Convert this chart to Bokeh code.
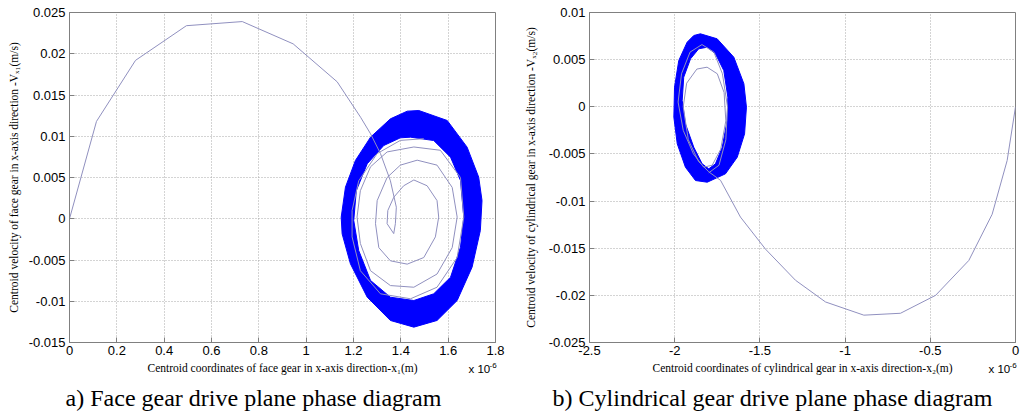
from bokeh.plotting import figure
from bokeh.layouts import row, column
from bokeh.models import FixedTicker, CustomJSTickFormatter, Range1d
from bokeh.core.properties import value
from bokeh.embed import file_html
from bokeh.resources import INLINE

# ---------------- data (x in units of 1e-6 m, velocity in m/s) ----------------
# a) face gear: transient trajectory
x1_traj = [0.0, 0.114, 0.279, 0.494, 0.730, 0.945, 1.131, 1.230, 1.272, 1.314, 1.356, 1.381,
           1.377, 1.370, 1.342, 1.345, 1.370, 1.412, 1.455, 1.511, 1.553, 1.560, 1.546, 1.497,
           1.427, 1.356, 1.307, 1.293, 1.300, 1.342, 1.398, 1.469, 1.553, 1.617, 1.638, 1.617,
           1.553, 1.455, 1.356, 1.272, 1.229, 1.215, 1.229, 1.272, 1.342, 1.455, 1.567, 1.652,
           1.666, 1.638, 1.553, 1.441, 1.314, 1.229, 1.194, 1.194, 1.222, 1.300, 1.398, 1.497]
v1_traj = [0.0, 0.0118, 0.0192, 0.0234, 0.0239, 0.0212, 0.0166, 0.0123, 0.0103, 0.0079, 0.0046, 0.0014,
           -0.0006, -0.0018, -0.0006, 0.0010, 0.0026, 0.0040, 0.0047, 0.0040, 0.0022, 0.0002, -0.0022, -0.0047,
           -0.0055, -0.0051, -0.0035, -0.0006, 0.0022, 0.0050, 0.0065, 0.0071, 0.0065, 0.0038, 0.0002, -0.0035,
           -0.0067, -0.0083, -0.0081, -0.0063, -0.0030, 0.0002, 0.0034, 0.0063, 0.0081, 0.0087, 0.0083, 0.0050,
           0.0002, -0.0047, -0.0083, -0.0097, -0.0091, -0.0063, -0.0022, 0.0010, 0.0046, 0.0079, 0.0095, 0.0097]
# a) steady-state band: outer and inner boundary
x1_outer = [1.476, 1.596, 1.680, 1.729, 1.743, 1.736, 1.701, 1.638, 1.553, 1.455,
            1.356, 1.258, 1.187, 1.152, 1.148, 1.166, 1.208, 1.272, 1.356, 1.427]
v1_outer = [0.01312, 0.01191, 0.00868, 0.00504, 0.00221, -0.00142, -0.00587, -0.00991, -0.01233, -0.01314,
            -0.01233, -0.00951, -0.00546, -0.00183, 0.00019, 0.00383, 0.00706, 0.00989, 0.01211, 0.01304]
x1_inner = [1.441, 1.539, 1.610, 1.652, 1.666, 1.652, 1.610, 1.539, 1.455, 1.356,
            1.272, 1.222, 1.201, 1.212, 1.258, 1.328, 1.398]
v1_inner = [0.00989, 0.00948, 0.00746, 0.00464, 0.00019, -0.00345, -0.00709, -0.00910, -0.00991, -0.00951,
            -0.00748, -0.00385, -0.00021, 0.00342, 0.00666, 0.00888, 0.00981]

# b) cylindrical gear: transient trajectory
x2_traj = [0.0, -0.049, -0.137, -0.274, -0.469, -0.675, -0.890, -1.115, -1.291, -1.467, -1.614, -1.731,
           -1.80, -1.86, -1.92, -1.95, -1.93, -1.87, -1.81, -1.75, -1.71, -1.70, -1.73, -1.78,
           -1.83, -1.89, -1.95, -1.98, -1.96, -1.91, -1.84, -1.77, -1.72, -1.69, -1.70, -1.74, -1.80]
v2_traj = [0.0, -0.0057, -0.0114, -0.0163, -0.0200, -0.0219, -0.0221, -0.0207, -0.0184, -0.0151, -0.0117, -0.0078,
           -0.0069, -0.0058, -0.0035, 0.0000, 0.0025, 0.0040, 0.0042, 0.0035, 0.0015, -0.0015, -0.0045, -0.0062,
           -0.0064, -0.0050, -0.0025, 0.0005, 0.0035, 0.0058, 0.0066, 0.0058, 0.0035, 0.0000, -0.0035, -0.0062, -0.0070]
# b) steady-state band
x2_outer = [-1.849, -1.751, -1.653, -1.594, -1.579, -1.590, -1.633, -1.702, -1.809,
            -1.878, -1.937, -1.985, -2.005, -2.001, -1.976, -1.927, -1.888]
v2_outer = [0.00774, 0.00721, 0.00526, 0.00244, -0.00004, -0.00287, -0.00535, -0.00711, -0.00800,
            -0.00782, -0.00641, -0.00393, -0.00110, 0.00208, 0.00491, 0.00685, 0.00756]
x2_inner = [-1.809, -1.761, -1.712, -1.688, -1.692, -1.721, -1.761, -1.800,
            -1.839, -1.888, -1.937, -1.956, -1.947, -1.907, -1.859]
v2_inner = [0.00632, 0.00562, 0.00385, 0.00102, -0.00145, -0.00429, -0.00605, -0.00658,
            -0.00605, -0.00429, -0.00181, 0.00067, 0.00314, 0.00509, 0.00615]

# ticks
x1_ticks = [0, 0.2, 0.4, 0.6, 0.8, 1.0, 1.2, 1.4, 1.6, 1.8]
x1_labels = ["0", "0.2", "0.4", "0.6", "0.8", "1", "1.2", "1.4", "1.6", "1.8"]
y1_ticks = [-0.015, -0.01, -0.005, 0, 0.005, 0.01, 0.015, 0.02, 0.025]
y1_labels = ["-0.015", "-0.01", "-0.005", "0", "0.005", "0.01", "0.015", "0.02", "0.025"]
x2_ticks = [-2.5, -2.0, -1.5, -1.0, -0.5, 0]
x2_labels = ["-2.5", "-2", "-1.5", "-1", "-0.5", "0"]
y2_ticks = [-0.025, -0.02, -0.015, -0.01, -0.005, 0, 0.005, 0.01]
y2_labels = ["-0.025", "-0.02", "-0.015", "-0.01", "-0.005", "0", "0.005", "0.01"]

# texts below the panels
x_titles = ["Centroid coordinates of face gear in x-axis direction-x\u2081(m)",
            "Centroid coordinates of cylindrical gear in x-axis direction-x\u2082(m)"]
y_titles = ["Centroid velocity of face gear in x-axis direction -V\u2093\u2081(m/s)",
            "Centroid velocity of cylindrical gear in x-axis direction -V\u2093\u2082(m/s)"]
captions = ["a) Face gear drive plane phase diagram", "b) Cylindrical gear drive plane phase diagram"]
scale_base = ["x 10", "x 10"]
scale_exp = ["-6", "-6"]

LINE = "#9090bf"
BAND = "#0000ff"
SANS = "Liberation Sans"
SERIF = "Liberation Serif"
TOP_H = 362


def fmt(ticks, labels):
    return CustomJSTickFormatter(args=dict(tv=ticks, lb=labels), code="""
        for (let i = 0; i < tv.length; i++) { if (Math.abs(tv[i] - tick) < 1e-9) return lb[i]; }
        return '';
    """)


def make(xr, yr, xt, xl, yt, yl, ylabel, border_left, border_right, ystd):
    p = figure(width=512, height=TOP_H, output_backend="svg", toolbar_location=None, title=None,
               x_range=Range1d(*xr), y_range=Range1d(*yr),
               min_border_left=border_left, min_border_right=border_right,
               min_border_top=12, min_border_bottom=TOP_H - 12 - 330)
    p.background_fill_color = "white"
    p.border_fill_color = "white"
    p.outline_line_color = "#808080"
    p.outline_line_width = 1
    for ax, t, l in ((p.xaxis, xt, xl), (p.yaxis, yt, yl)):
        ax.ticker = FixedTicker(ticks=t)
        ax.formatter = fmt(t, l)
        ax.major_tick_in = 5
        ax.major_tick_out = 0
        ax.minor_tick_line_color = None
        ax.major_tick_line_color = "#808080"
        ax.axis_line_color = "#808080"
        ax.major_label_text_font = SANS
        ax.major_label_text_font_size = "13px"
        ax.major_label_text_color = "black"
        ax.major_label_standoff = 4
        ax.axis_label_text_font = SERIF
        ax.axis_label_text_font_style = "normal"
        ax.axis_label_text_font_size = "11.5px"
        ax.axis_label_text_color = "black"
    p.xaxis.major_label_standoff = 3
    p.yaxis.axis_label = ylabel
    p.yaxis.axis_label_standoff = ystd
    p.grid.grid_line_color = "#a8a8a8"
    p.grid.grid_line_dash = "1 2"
    p.grid.grid_line_width = 1
    return p


# ---- panel a ----
p1 = make((0, 1.8), (-0.015, 0.025), x1_ticks, x1_labels, y1_ticks, y1_labels,
          y_titles[0], 69, 17, 6)
p1.multi_polygons(xs=[[[x1_outer, x1_inner]]], ys=[[[v1_outer, v1_inner]]],
                  fill_color=BAND, line_color=BAND, line_width=1)
p1.line(x1_traj, v1_traj, line_color=LINE, line_width=1)

# ---- panel b ----
p2 = make((-2.5, 0), (-0.025, 0.01), x2_ticks, x2_labels, y2_ticks, y2_labels,
          y_titles[1], 77, 9, 9)
p2.multi_polygons(xs=[[[x2_outer, x2_inner]]], ys=[[[v2_outer, v2_inner]]],
                  fill_color=BAND, line_color=BAND, line_width=1)
p2.line(x2_traj, v2_traj, line_color=LINE, line_width=1)

# ---- strip below both panels: page pixel coordinates (y grows downward) ----
strip = figure(width=1024, height=414 - TOP_H, output_backend="svg", toolbar_location=None,
               title=None, x_range=Range1d(0, 1024), y_range=Range1d(414, TOP_H),
               x_axis_type=None, y_axis_type=None, min_border=0)
strip.grid.visible = False
strip.outline_line_color = None
strip.background_fill_color = "white"
strip.border_fill_color = "white"
strip.text(x=[282, 802], y=[367, 367], text=x_titles, text_font=value(SERIF),
           text_font_size=value("11.5px"), text_align="center", text_baseline="middle",
           text_color="black")
strip.text(x=[468, 988], y=[368, 368], text=scale_base, text_font=value(SANS),
           text_font_size=value("11.5px"), text_align="left", text_baseline="middle",
           text_color="black")
strip.text(x=[489, 1009], y=[365, 365], text=scale_exp, text_font=value(SANS),
           text_font_size=value("8px"), text_align="left", text_baseline="middle",
           text_color="black")
strip.text(x=[253, 772], y=[397, 397], text=captions, text_font=value(SERIF),
           text_font_size=value("24px"), text_align="center", text_baseline="middle",
           text_color="black")

layout = column(row(p1, p2), strip)
open("out.html", "w").write(file_html(layout, INLINE))
